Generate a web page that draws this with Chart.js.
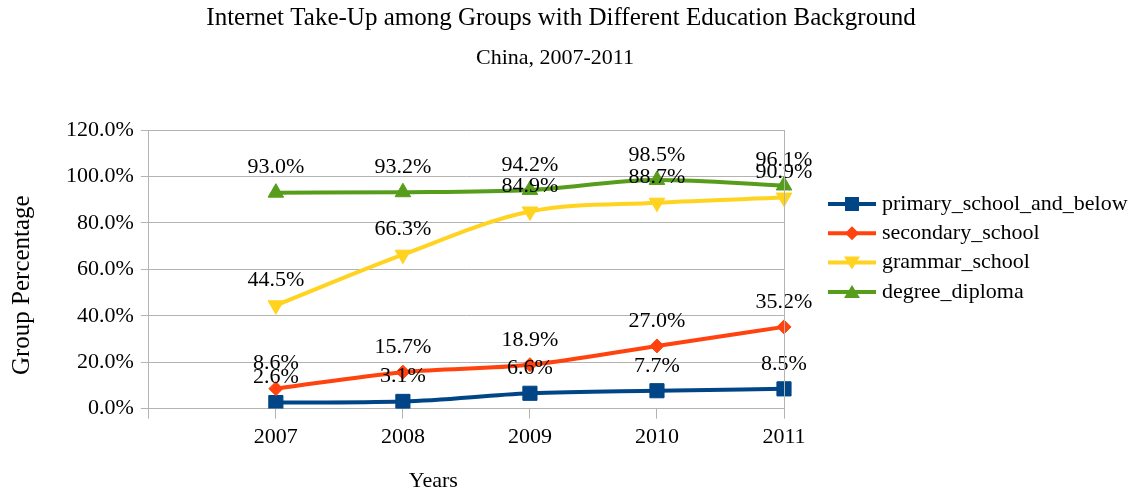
<!DOCTYPE html>
<html lang="en">
<head>
  <meta charset="UTF-8" />
  <title>Internet Take-Up among Groups with Different Education Background</title>
  <script src="https://cdn.jsdelivr.net/npm/chart.js"></script>
  <style>
    body { margin: 0; background: #fff; }
    #wrap { width: 1143px; height: 497px; }
  </style>
</head>
<body>
  <div id="wrap"><canvas id="takeupChart" width="1143" height="497"></canvas></div>

  <script>
    // years on the x axis (a blank slot sits in front of 2007)
    const years = ['2007', '2008', '2009', '2010', '2011'];

    // internet take-up in percent per education group
    const primarySchool = [2.6, 3.1, 6.6, 7.7, 8.5];
    const secondarySchool = [8.6, 15.7, 18.9, 27.0, 35.2];
    const grammarSchool = [44.5, 66.3, 84.9, 88.7, 90.9];
    const degreeDiploma = [93.0, 93.2, 94.2, 98.5, 96.1];

    const seriesNames = ['primary_school_and_below', 'secondary_school', 'grammar_school', 'degree_diploma'];
    const yTicks = [0, 20, 40, 60, 80, 100, 120];

    const chartTitle = 'Internet Take-Up among Groups with Different Education Background';
    const chartSubtitle = 'China, 2007-2011';
    const xTitle = 'Years';
    const yTitle = 'Group Percentage';

    const FONT = "'Liberation Serif', 'Times New Roman', serif";
    const GRID = '#b3b3b3';

    Chart.defaults.font.family = FONT;
    Chart.defaults.color = '#000';

    const colors = ['#004586', '#ff420e', '#ffd320', '#579d1c'];
    const shapes = ['square', 'diamond', 'down', 'up'];

    // legend sample: short line with the series marker in the middle
    function drawSample(g, x, y, color, shape) {
      g.strokeStyle = color;
      g.fillStyle = color;
      g.lineWidth = 4;
      g.beginPath();
      g.moveTo(x, y);
      g.lineTo(x + 48, y);
      g.stroke();
      const cx = x + 24;
      g.beginPath();
      if (shape === 'square') {
        g.rect(cx - 7, y - 7, 14, 14);
      } else if (shape === 'diamond') {
        g.moveTo(cx, y - 7); g.lineTo(cx + 7, y); g.lineTo(cx, y + 7); g.lineTo(cx - 7, y);
      } else if (shape === 'down') {
        g.moveTo(cx - 8, y - 6); g.lineTo(cx + 8, y - 6); g.lineTo(cx, y + 7);
      } else {
        g.moveTo(cx, y - 7); g.lineTo(cx + 8, y + 6); g.lineTo(cx - 8, y + 6);
      }
      g.closePath();
      g.fill();
    }

    // value text above every point
    const valueLabels = {
      id: 'valueLabels',
      afterDatasetsDraw(chart) {
        const ctx = chart.ctx;
        ctx.save();
        ctx.font = '22px ' + FONT;
        ctx.fillStyle = '#000';
        ctx.textAlign = 'center';
        ctx.textBaseline = 'middle';
        chart.data.datasets.forEach((ds, i) => {
          chart.getDatasetMeta(i).data.forEach((pt, j) => {
            const v = ds.data[j];
            if (v == null) return;
            ctx.fillText(v.toFixed(1) + '%', pt.x, pt.y - 25);
          });
        });
        ctx.restore();
      }
    };

    // titles, right frame line, axis titles and the legend block beside the plot
    const frameAndLegend = {
      id: 'frameAndLegend',
      afterDraw(chart) {
        const ctx = chart.ctx;
        const area = chart.chartArea;
        ctx.save();
        ctx.strokeStyle = GRID;
        ctx.lineWidth = 1;
        ctx.beginPath();
        ctx.moveTo(Math.round(area.right) + 0.5, area.top);
        ctx.lineTo(Math.round(area.right) + 0.5, area.bottom);
        ctx.stroke();

        ctx.fillStyle = '#000';
        ctx.textAlign = 'center';
        ctx.textBaseline = 'middle';
        ctx.font = '25px ' + FONT;
        ctx.fillText(chartTitle, 561, 18);
        ctx.font = '22px ' + FONT;
        ctx.fillText(chartSubtitle, 555, 58);

        ctx.fillText(xTitle, area.left + (area.right - area.left) * 0.448, 481);

        ctx.save();
        ctx.translate(22, area.top + (area.bottom - area.top) * 0.557);
        ctx.rotate(-Math.PI / 2);
        ctx.font = '25px ' + FONT;
        ctx.fillText(yTitle, 0, 0);
        ctx.restore();

        const lx = area.right + 44;
        const ly = area.top + 74;
        ctx.textAlign = 'left';
        ctx.font = '22px ' + FONT;
        chart.data.datasets.forEach((ds, i) => {
          const y = ly + i * 29.3;
          drawSample(ctx, lx, y, colors[i], shapes[i]);
          ctx.fillStyle = '#000';
          ctx.fillText(ds.label, lx + 54, y);
        });
        ctx.restore();
      }
    };

    // later series are painted over earlier ones
    function series(index, values, style, radius, rotation) {
      const color = colors[index];
      return {
        label: seriesNames[index],
        data: [null].concat(values),
        order: seriesNames.length - index,
        borderColor: color,
        backgroundColor: color,
        borderWidth: 4,
        pointStyle: style,
        pointRadius: radius,
        pointHoverRadius: radius,
        pointRotation: rotation || 0,
        pointBorderWidth: 1,
        cubicInterpolationMode: 'monotone'
      };
    }

    new Chart(document.getElementById('takeupChart'), {
      type: 'line',
      data: {
        labels: [''].concat(years),
        datasets: [
          series(0, primarySchool, 'rect', 10),
          series(1, secondarySchool, 'rectRot', 7),
          series(2, grammarSchool, 'triangle', 9, 180),
          series(3, degreeDiploma, 'triangle', 9)
        ]
      },
      options: {
        responsive: false,
        animation: false,
        layout: { padding: { left: 59, right: 359, top: 130, bottom: 42 } },
        plugins: {
          legend: { display: false },
          tooltip: { enabled: false }
        },
        scales: {
          x: {
            offset: false,
            grid: { drawOnChartArea: false, drawTicks: true, tickLength: 10, color: GRID },
            border: { color: GRID },
            ticks: { font: { size: 22 }, color: '#000', padding: 5, maxRotation: 0, autoSkip: false }
          },
          y: {
            min: 0,
            max: 120,
            afterBuildTicks(scale) { scale.ticks = yTicks.map(v => ({ value: v })); },
            grid: { color: GRID, tickLength: 8 },
            border: { color: GRID },
            ticks: { font: { size: 22 }, color: '#000', padding: 7, callback: v => v.toFixed(1) + '%' }
          }
        }
      },
      plugins: [valueLabels, frameAndLegend]
    });
  </script>
</body>
</html>
